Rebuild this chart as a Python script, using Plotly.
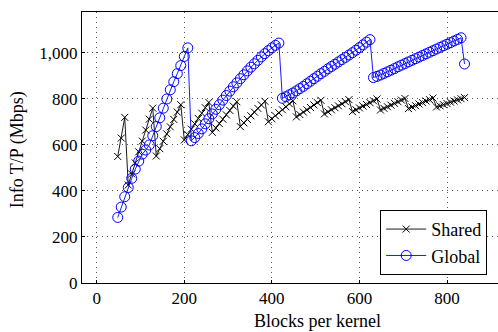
import plotly.graph_objects as go

blocks = list(range(48, 841, 8))

shared = [
    550, 630, 720,
    426, 474, 522, 570, 617, 665, 712, 760,
    552, 584, 616, 648, 679, 711, 743, 775,
    622, 645, 669, 692, 715, 738, 762, 785,
    655, 674, 693, 712, 731, 750, 769, 788,
    680, 696, 711, 727, 743, 759, 774, 790,
    701, 714, 727, 740, 753, 766, 779, 792,
    722, 732, 743, 753, 763, 774, 784, 794,
    735, 744, 753, 762, 770, 779, 788, 797,
    745, 753, 761, 769, 776, 784, 792, 800,
    752, 759, 766, 773, 781, 788, 795, 802,
    758, 765, 771, 778, 784, 791, 797, 804,
    765, 770, 775, 780, 786, 791, 796, 801, 806,
]

global_tp = [
    285, 330, 375, 415, 455, 495, 530, 560, 578, 600, 640, 680, 718, 760,
    800, 840, 875, 910, 945, 985, 1022,
    618, 632, 650, 670, 692, 714, 735, 755, 775, 795, 815, 834, 853, 870,
    888, 905, 922, 938, 953, 968, 983, 997, 1010, 1022, 1033, 1043,
    803, 810, 818, 826, 835, 845, 855, 866, 877, 888, 899, 910, 920, 931,
    941, 951, 961, 971, 981, 991, 1001, 1012, 1023, 1035, 1047, 1058,
    893, 898, 904, 911, 918, 925, 932, 940, 947, 954, 961, 968, 975, 982,
    989, 996, 1003, 1010, 1017, 1024, 1031, 1038, 1045, 1052, 1059, 1066,
    952,
]

x_ticks = [0, 200, 400, 600, 800]
y_ticks = [0, 200, 400, 600, 800, 1000]

FONT = "Liberation Serif, Times New Roman, serif"

fig = go.Figure()
fig.add_trace(go.Scatter(
    x=blocks, y=shared, name="Shared", mode="lines+markers",
    line=dict(color="black", width=0.9),
    marker=dict(symbol="x-thin", size=7, line=dict(color="black", width=1)),
))
fig.add_trace(go.Scatter(
    x=blocks, y=global_tp, name="Global", mode="lines+markers",
    line=dict(color="#0000ff", width=0.9),
    marker=dict(symbol="circle-open", size=10, color="#0000ff",
                line=dict(color="#0000ff", width=1)),
))

grid = dict(showgrid=True, gridcolor="#555555", griddash="1px,4px", gridwidth=1)

fig.update_layout(
    width=498, height=332,
    margin=dict(l=82, r=0, t=12, b=49),
    paper_bgcolor="white", plot_bgcolor="white",
    font=dict(family=FONT, size=18, color="black"),
    showlegend=True,
    legend=dict(
        x=0.974, y=0.03, xanchor="right", yanchor="bottom",
        bordercolor="black", borderwidth=1, bgcolor="white",
        font=dict(family=FONT, size=18),
        tracegroupgap=0, itemwidth=40,
    ),
    xaxis=dict(
        range=[-33.6, 916.4], tickvals=x_ticks,
        showline=True, linecolor="black", linewidth=1, mirror=True,
        zeroline=False, ticks="inside", ticklen=3, tickcolor="black",
        tickfont=dict(family=FONT, size=17), **grid,
    ),
    yaxis=dict(
        range=[0, 1178], tickvals=y_ticks, tickformat=",d",
        showline=True, linecolor="black", linewidth=1, mirror=False,
        zeroline=False, ticks="inside", ticklen=3, tickcolor="black",
        tickfont=dict(family=FONT, size=17), **grid,
    ),
    annotations=[
        dict(text="Blocks per kernel", xref="paper", yref="paper",
             x=0.565, y=-0.095, xanchor="center", yanchor="top",
             showarrow=False, font=dict(family=FONT, size=18)),
        dict(text="Info T/P (Mbps)", xref="paper", yref="paper",
             x=-0.156, y=0.49, xanchor="center", yanchor="middle",
             textangle=-90, showarrow=False, font=dict(family=FONT, size=18)),
    ],
)

fig.write_html("out.html")
